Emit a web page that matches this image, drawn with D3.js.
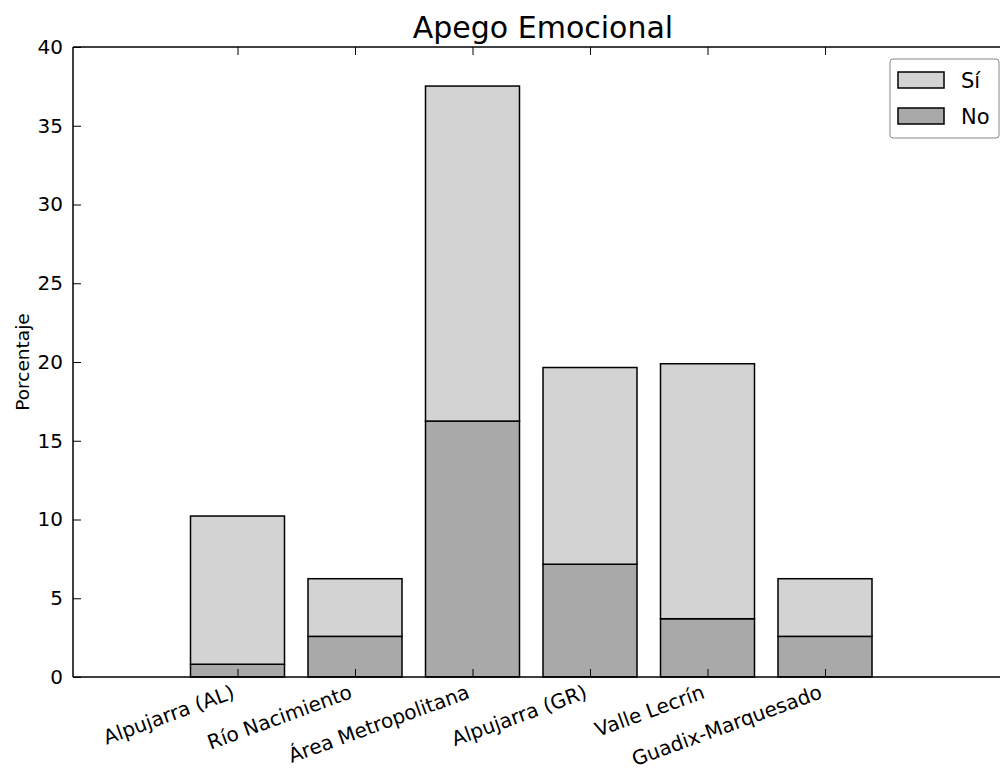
<!DOCTYPE html>
<html>
<head>
<meta charset="utf-8">
<script src="https://cdn.jsdelivr.net/npm/d3@7"></script>
<style>
  body { margin: 0; background: #fff; }
  text { font-family: "DejaVu Sans", sans-serif; fill: #000; }
</style>
</head>
<body>
<svg id="chart" width="1000" height="772"></svg>
<script>
const categories = ["Alpujarra (AL)", "Río Nacimiento", "Área Metropolitana", "Alpujarra (GR)", "Valle Lecrín", "Guadix-Marquesado"];
const noValues = [0.81, 2.58, 16.25, 7.16, 3.70, 2.58];
const siValues = [9.41, 3.66, 21.27, 12.49, 16.19, 3.66];
const yTicks = [0, 5, 10, 15, 20, 25, 30, 35, 40];
const seriesNames = ["No", "Sí"];
const seriesColors = {"No": "#a9a9a9", "Sí": "#d3d3d3"};

(function () {
const svg = d3.select("#chart");
const mLeft = 73, mRight = 1013, mTop = 47, mBottom = 677;
const barWidth = 0.8;

const x = d3.scaleLinear().domain([-1, 7]).range([mLeft, mRight]);
const y = d3.scaleLinear().domain([0, 40]).range([mBottom, mTop]);

const table = categories.map((c, i) => ({cat: c, i: i, "No": noValues[i], "Sí": siValues[i]}));
const stacked = d3.stack().keys(seriesNames)(table);

// bars
stacked.forEach(s => {
  svg.append("g").selectAll("rect").data(s).join("rect")
    .attr("x", d => x(d.data.i))
    .attr("width", d => x(d.data.i + barWidth) - x(d.data.i))
    .attr("y", d => y(d[1]))
    .attr("height", d => y(d[0]) - y(d[1]))
    .attr("fill", seriesColors[s.key])
    .attr("stroke", "#000")
    .attr("stroke-width", 1.5);
});

const tickPos = categories.map((c, i) => i + barWidth / 2);

// spines
const spine = svg.append("g").attr("stroke", "#000").attr("stroke-width", 1.5).attr("fill", "none");
spine.append("line").attr("x1", mLeft).attr("x2", mLeft).attr("y1", mTop).attr("y2", mBottom);
spine.append("line").attr("x1", mLeft).attr("x2", mRight).attr("y1", mBottom).attr("y2", mBottom);
spine.append("line").attr("x1", mLeft).attr("x2", mRight).attr("y1", mTop).attr("y2", mTop);
spine.append("line").attr("x1", mRight).attr("x2", mRight).attr("y1", mTop).attr("y2", mBottom);

// y axis (ticks inward)
const yAxis = d3.axisLeft(y).tickValues(yTicks).tickSizeInner(-8).tickSizeOuter(0).tickPadding(10);
const gy = svg.append("g").attr("transform", `translate(${mLeft},0)`).call(yAxis);
gy.select(".domain").remove();
gy.selectAll(".tick line").attr("stroke", "#000").attr("stroke-width", 1);
gy.selectAll(".tick text").attr("font-size", 20).attr("font-family", "DejaVu Sans").attr("fill", "#000");

// x axis ticks (inward), bottom and top
const xAxis = d3.axisBottom(x).tickValues(tickPos).tickSizeInner(-8).tickSizeOuter(0).tickFormat("");
const gx = svg.append("g").attr("transform", `translate(0,${mBottom})`).call(xAxis);
gx.select(".domain").remove();
gx.selectAll(".tick line").attr("stroke", "#000").attr("stroke-width", 1);

const xAxisTop = d3.axisTop(x).tickValues(tickPos).tickSizeInner(-8).tickSizeOuter(0).tickFormat("");
const gxt = svg.append("g").attr("transform", `translate(0,${mTop})`).call(xAxisTop);
gxt.select(".domain").remove();
gxt.selectAll(".tick line").attr("stroke", "#000").attr("stroke-width", 1);

// rotated category labels
svg.append("g").selectAll("text").data(categories).join("text")
  .attr("transform", (d, i) => `translate(${x(tickPos[i]) - 7},${mBottom + 6}) rotate(-20)`)
  .attr("text-anchor", "end")
  .attr("dy", "0.78em")
  .attr("font-size", 20)
  .text(d => d);

// y label
svg.append("text")
  .attr("transform", `translate(23,${(mTop + mBottom) / 2}) rotate(-90)`)
  .attr("text-anchor", "middle")
  .attr("dy", "0.35em")
  .attr("font-size", 18.5)
  .text("Porcentaje");

// title
svg.append("text")
  .attr("x", (mLeft + mRight) / 2)
  .attr("y", 38)
  .attr("text-anchor", "middle")
  .attr("font-size", 30)
  .text("Apego Emocional");

// legend
const leg = svg.append("g");
leg.append("rect").attr("x", 890).attr("y", 59).attr("width", 109).attr("height", 79)
  .attr("rx", 3).attr("fill", "#fff").attr("stroke", "#888").attr("stroke-width", 1);
const legItems = ["Sí", "No"];
legItems.forEach((k, j) => {
  const cy = 80 + j * 36;
  leg.append("rect").attr("x", 898).attr("y", cy - 8).attr("width", 46).attr("height", 16)
    .attr("fill", seriesColors[k]).attr("stroke", "#000").attr("stroke-width", 1.5);
  leg.append("text").attr("x", 961).attr("y", cy).attr("dy", "0.36em")
    .attr("font-size", 21).text(k);
});
})();
</script>
</body>
</html>
